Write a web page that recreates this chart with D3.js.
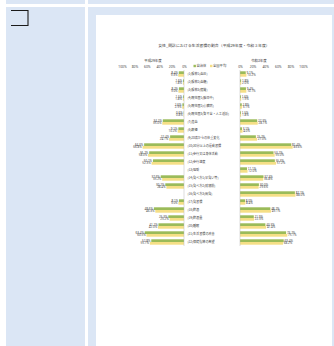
<!DOCTYPE html>
<html><head><meta charset="utf-8">
<script src="https://cdn.jsdelivr.net/npm/d3@7/dist/d3.min.js"></script>
<style>html,body{margin:0;padding:0;background:#fff;}svg{display:block;font-family:"Noto Sans CJK JP","Noto Sans",sans-serif;}</style>
</head><body><div id="chart"></div>
<script>
const title = "女性_問診における生活習慣の割合（平成29年度・令和３年度）";
const leftYear = "平成29年度";
const rightYear = "令和3年度";
const seriesNames = ["自治体", "全国平均"];
const categories = [
  "(1)服薬1(血圧)", "(2)服薬2(血糖)", "(3)服薬3(脂質)", "(4)既往歴1(脳卒中)",
  "(5)既往歴2(心臓病)", "(6)既往歴3(腎不全・人工透析)", "(7)貧血", "(8)喫煙",
  "(9)20歳からの体重変化", "(10)30分以上の運動習慣", "(11)歩行又は身体活動", "(12)歩行速度",
  "(13)咀嚼", "(14)食べ方1(早食い等)", "(15)食べ方2(就寝前)", "(16)食べ方3(間食)",
  "(17)食習慣", "(18)飲酒", "(19)飲酒量", "(20)睡眠", "(21)生活習慣の改善", "(22)保健指導の希望"
];
const leftLocal  = [8.4, 1.6, 8.2, 1.5, 2.6, 0.6, 34.2, 9.1, 22.4, 64.3, 56.2, 50.1, null, 37.6, 30.2, null, 8.1, 48.6, 25.3, 41.2, 63.4, 52.8];
const leftNation = [9.3, 1.8, 9.0, 1.8, 2.9, 0.8, 35.0, 10.2, 24.1, 66.8, 58.0, 52.3, null, 35.2, 28.4, null, 9.0, 46.3, 23.2, 42.0, 60.5, 55.1];
const rightLocal  = [9.1, 1.8, 9.4, 1.6, 2.8, 1.5, 27.3, 3.1, 25.2, 81.4, 53.2, 55.3, 11.1, 37.3, 30.0, 87.1, 8.0, 48.2, 21.9, 40.3, 73.2, 69.4];
const rightNation = [10.2, 2.0, 10.1, 1.9, 3.1, 1.8, 28.1, 4.0, 27.0, 83.6, 55.0, 57.2, 12.0, 36.8, 29.6, 88.0, 8.4, 49.1, 22.3, 41.4, 75.1, 68.2];
const tickValues = [0, 20, 40, 60, 80, 100];

const W = 334, H = 346;
const svg = d3.select("#chart").append("svg").attr("width", W).attr("height", H);
const blue = "#dbe6f5";
// page frame
svg.append("rect").attr("x", 6).attr("y", 0).attr("width", 79).attr("height", 4).attr("fill", blue);
svg.append("rect").attr("x", 88).attr("y", 0).attr("width", 246).attr("height", 4).attr("fill", blue);
svg.append("rect").attr("x", 6).attr("y", 7).attr("width", 79).attr("height", H - 7).attr("fill", blue);
svg.append("rect").attr("x", 88).attr("y", 7).attr("width", 246).attr("height", H - 7).attr("fill", blue);
svg.append("rect").attr("x", 96).attr("y", 15).attr("width", 236).attr("height", H - 15).attr("fill", "#fff");
svg.append("path").attr("d", "M11,10.5H28V25.5H11").attr("fill", "none").attr("stroke", "#1a1a1a").attr("stroke-width", 1.1);

const green = "#9bbb59", yellow = "#f5df86";
const xL = d3.scaleLinear().domain([0, 100]).range([184, 122]);
const xR = d3.scaleLinear().domain([0, 100]).range([240, 303]);
const y = d3.scaleBand().domain(categories).range([70, 246]);
const bh = 2.7;
const fmt = v => v.toFixed(1) + "%";

svg.append("text").attr("x", 214).attr("y", 47).attr("text-anchor", "middle").attr("font-size", 3.9).attr("fill", "#333").text(title);
svg.append("text").attr("x", xL(50)).attr("y", 61.5).attr("text-anchor", "middle").attr("font-size", 3.4).attr("fill", "#333").text(leftYear);
svg.append("text").attr("x", xR(30)).attr("y", 61.5).attr("text-anchor", "middle").attr("font-size", 3.4).attr("fill", "#333").text(rightYear);

const axL = d3.axisTop(xL).tickValues(tickValues).tickFormat(d => d + "%").tickSize(0);
const axR = d3.axisTop(xR).tickValues(tickValues).tickFormat(d => d + "%").tickSize(0);
[axL, axR].forEach(ax => {
  const g = svg.append("g").attr("transform", "translate(0,67.5)").call(ax);
  g.select(".domain").remove();
  g.selectAll("text").attr("font-size", 3.3).attr("fill", "#444").attr("dy", 0).attr("y", 0).attr("font-family", "'Noto Sans',sans-serif");
});

// legend
[[green, 193.5], [yellow, 210]].forEach(([c, x0], i) => {
  svg.append("rect").attr("x", x0).attr("y", 64.8).attr("width", 2.4).attr("height", 2.4).attr("fill", c);
  svg.append("text").attr("x", x0 + 3).attr("y", 67.4).attr("font-size", 3.3).attr("fill", "#444").text(seriesNames[i]);
});

function drawSide(x, vals, color, offset, side) {
  const data = categories.map((c, i) => ({c, v: vals[i]})).filter(d => d.v != null);
  const g = svg.append("g");
  g.selectAll("rect").data(data).join("rect")
    .attr("x", d => side === "L" ? x(d.v) : x(0))
    .attr("y", d => y(d.c) + y.bandwidth() / 2 + offset)
    .attr("width", d => Math.abs(x(d.v) - x(0)))
    .attr("height", bh).attr("fill", color);
  g.selectAll("text").data(data).join("text")
    .attr("x", d => side === "L" ? x(d.v) - 0.8 : x(d.v) + 0.8)
    .attr("y", d => y(d.c) + y.bandwidth() / 2 + offset + 2.4)
    .attr("text-anchor", side === "L" ? "end" : "start")
    .attr("font-size", 3).attr("fill", "#444").attr("font-family", "'Noto Sans',sans-serif")
    .text(d => fmt(d.v));
}
drawSide(xL, leftLocal, green, -bh, "L");
drawSide(xL, leftNation, yellow, 0, "L");
drawSide(xR, rightLocal, green, -bh, "R");
drawSide(xR, rightNation, yellow, 0, "R");

svg.append("line").attr("x1", xL(0)).attr("x2", xL(0)).attr("y1", 70).attr("y2", 246).attr("stroke", "#bbb").attr("stroke-width", 0.5);
svg.append("line").attr("x1", xR(0)).attr("x2", xR(0)).attr("y1", 70).attr("y2", 246).attr("stroke", "#bbb").attr("stroke-width", 0.5);

svg.append("g").selectAll("text").data(categories).join("text")
  .attr("x", 187.5).attr("y", d => y(d) + y.bandwidth() / 2 + 1.2)
  .attr("font-size", 3.1).attr("fill", "#444").text(d => d);
</script></body></html>
